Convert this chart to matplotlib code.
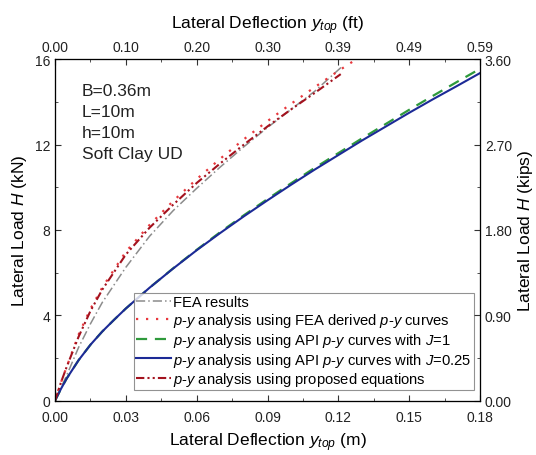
import numpy as np
import matplotlib
matplotlib.use("Agg")
import matplotlib.pyplot as plt
from matplotlib.ticker import AutoMinorLocator

plt.rcParams['font.family'] = ['Liberation Sans', 'DejaVu Sans']
plt.rcParams['mathtext.fontset'] = 'custom'
plt.rcParams['mathtext.rm'] = 'Liberation Sans'
plt.rcParams['mathtext.it'] = 'Liberation Sans:italic'

################################################################################
# Datos

# FEA results
x_fea = [0, 0.0025, 0.005, 0.01, 0.015, 0.02, 0.03, 0.04, 0.05, 0.06, 0.07, 0.08,
         0.09, 0.10, 0.11, 0.122]
h_fea = [0, 0.6, 1.2, 2.5, 3.6, 4.6, 6.25, 7.7, 8.9, 9.95, 10.95, 11.9,
         12.8, 13.65, 14.5, 15.7]

# p-y con curvas derivadas de FEA
x_pyfea = [0, 0.0025, 0.005, 0.01, 0.015, 0.02, 0.03, 0.04, 0.05, 0.06, 0.07, 0.08,
           0.09, 0.10, 0.11, 0.12, 0.13]
h_pyfea = [0, 0.85, 1.6, 3.1, 4.3, 5.3, 6.98, 8.23, 9.35, 10.38, 11.34, 12.25,
           13.1, 13.91, 14.69, 15.45, 16.17]

# API J=1
x_api1 = [0, 0.0025, 0.005, 0.01, 0.015, 0.02, 0.025, 0.03, 0.04, 0.05, 0.06, 0.07,
          0.08, 0.09, 0.10, 0.11, 0.12, 0.13, 0.14, 0.15, 0.16, 0.17, 0.18]
h_api1 = [0, 0.55, 1.05, 1.9, 2.62, 3.24, 3.79, 4.32, 5.29, 6.2, 7.07, 7.9,
          8.69, 9.45, 10.19, 10.91, 11.6, 12.29, 12.96, 13.63, 14.28, 14.92, 15.55]

# API J=0.25
x_api025 = [0, 0.0025, 0.005, 0.01, 0.015, 0.02, 0.025, 0.03, 0.04, 0.05, 0.06, 0.07,
            0.08, 0.09, 0.10, 0.11, 0.12, 0.13, 0.14, 0.15, 0.16, 0.17, 0.18]
h_api025 = [0, 0.55, 1.05, 1.9, 2.62, 3.24, 3.79, 4.32, 5.29, 6.19, 7.05, 7.86,
            8.64, 9.39, 10.12, 10.83, 11.51, 12.19, 12.84, 13.49, 14.12, 14.73, 15.35]

# Ecuaciones propuestas
x_prop = [0, 0.0025, 0.005, 0.01, 0.015, 0.02, 0.03, 0.04, 0.05, 0.06, 0.07, 0.08,
          0.09, 0.10, 0.11, 0.121]
h_prop = [0, 0.85, 1.6, 3.0, 4.2, 5.2, 6.85, 8.1, 9.18, 10.2, 11.12, 12.0,
          12.85, 13.65, 14.42, 15.3]

x_ticks = [0, 0.03, 0.06, 0.09, 0.12, 0.15, 0.18]
ft_labels = ["0.00", "0.10", "0.20", "0.30", "0.39", "0.49", "0.59"]
y_ticks = [0, 4, 8, 12, 16]
kips_labels = ["0.00", "0.90", "1.80", "2.70", "3.60"]

################################################################################
# Gráfica

fig = plt.figure(figsize=(5.36, 4.56), dpi=100)
ax = fig.add_axes([0.1026, 0.119, 0.793, 0.749])

ax.plot(x_fea, h_fea, color="#8c8c8c", lw=1.1, linestyle=(0, (6, 2, 1, 2)),
        label="FEA results")
ax.plot(x_pyfea, h_pyfea, color="#e8383d", lw=1.6, linestyle=(0, (1, 3.5)),
        label="$p$-$y$ analysis using FEA derived $p$-$y$ curves")
ax.plot(x_api1, h_api1, color="#2f9a3c", lw=1.6, linestyle=(0, (5, 3.5)),
        label="$p$-$y$ analysis using API $p$-$y$ curves with $J$=1")
ax.plot(x_api025, h_api025, color="#1c2a96", lw=1.5, linestyle="-",
        label="$p$-$y$ analysis using API $p$-$y$ curves with $J$=0.25")
ax.plot(x_prop, h_prop, color="#a3121e", lw=1.5, linestyle=(0, (4, 1.5, 1, 1.5, 1, 1.5)),
        label="$p$-$y$ analysis using proposed equations")

ax.set_xlim(0, 0.18)
ax.set_ylim(0, 16)
ax.set_xticks(x_ticks)
ax.set_yticks(y_ticks)
ax.xaxis.set_major_formatter(plt.FormatStrFormatter("%.2f"))
ax.xaxis.set_minor_locator(AutoMinorLocator(2))
ax.yaxis.set_minor_locator(AutoMinorLocator(2))
ax.tick_params(which="both", direction="in", labelsize=10, colors="#333333",
               labelcolor="#222222")
ax.tick_params(which="major", length=4)
ax.tick_params(which="minor", length=2.5)
ax.tick_params(axis="x", pad=7)
ax.set_xlabel("Lateral Deflection $y_{top}$ (m)", fontsize=12.5, labelpad=4)
ax.set_ylabel("Lateral Load $H$ (kN)", fontsize=12.5, labelpad=4)
for s in ax.spines.values():
    s.set_color("#444444")

# Eje superior en pies
axt = ax.twiny()
axt.set_xlim(ax.get_xlim())
axt.set_xticks(x_ticks)
axt.set_xticklabels(ft_labels)
axt.xaxis.set_minor_locator(AutoMinorLocator(2))
axt.tick_params(which="both", direction="in", labelsize=10, colors="#333333",
                labelcolor="#222222")
axt.tick_params(which="major", length=4)
axt.tick_params(which="minor", length=2.5)
axt.set_xlabel("Lateral Deflection $y_{top}$ (ft)", fontsize=12.5, labelpad=9)

# Eje derecho en kips
axr = ax.twinx()
axr.set_ylim(ax.get_ylim())
axr.set_yticks(y_ticks)
axr.set_yticklabels(kips_labels)
axr.yaxis.set_minor_locator(AutoMinorLocator(2))
axr.tick_params(which="both", direction="in", labelsize=10, colors="#333333",
                labelcolor="#222222")
axr.tick_params(which="major", length=4)
axr.tick_params(which="minor", length=2.5)
axr.set_ylabel("Lateral Load $H$ (kips)", fontsize=12.5, labelpad=3)

ax.text(0.0114, 14.9, "B=0.36m\nL=10m\nh=10m\nSoft Clay UD", fontsize=12.5,
        va="top", ha="left", linespacing=1.5, color="#222222")

leg = ax.legend(loc="lower right", bbox_to_anchor=(0.985, 0.03), fontsize=10.6,
                frameon=True, fancybox=False, edgecolor="#777777",
                handlelength=2.4, handletextpad=0.15, labelspacing=0.12,
                borderpad=0.15, borderaxespad=0)
leg.get_frame().set_linewidth(0.8)

plt.savefig("out.png", dpi=100)
